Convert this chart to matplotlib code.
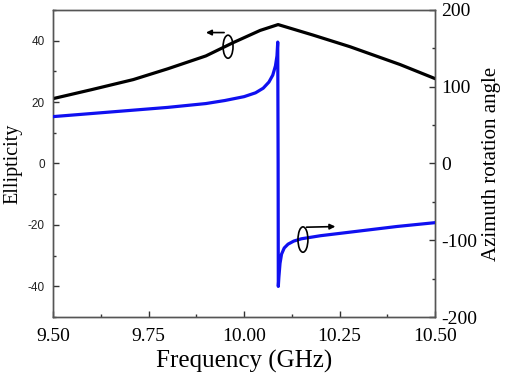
import numpy as np
import matplotlib
matplotlib.use("Agg")
import matplotlib.pyplot as plt
from matplotlib.patches import Ellipse
from matplotlib.ticker import MultipleLocator

plt.rcParams["axes.unicode_minus"] = False

# Ellipticity (black, left axis)
freq_ell = [9.50, 9.60, 9.71, 9.80, 9.90, 9.971, 10.042, 10.089, 10.18, 10.277, 10.408, 10.50]
ellipticity = [21.1, 24.0, 27.3, 30.8, 35.0, 39.3, 43.3, 45.2, 41.8, 38.0, 32.2, 27.6]

# Azimuth rotation angle (blue, right axis)
freq_az = [9.50, 9.60, 9.70, 9.80, 9.90, 9.95, 10.00, 10.03, 10.05, 10.065, 10.075, 10.082,
           10.086, 10.088, 10.089, 10.0895, 10.091, 10.094, 10.098, 10.105, 10.115, 10.13,
           10.15, 10.20, 10.30, 10.40, 10.50]
azimuth = [61, 65, 69, 73, 78, 82, 87, 92, 98, 106, 115, 127,
           140, 158, 0, -160, -148, -130, -118, -110, -105, -101,
           -98, -94, -88, -82, -77]

serif = "Liberation Serif"
sans = "Liberation Sans"

fig = plt.figure(figsize=(5.12, 3.78), dpi=100)
ax = fig.add_axes([0.1035, 0.161, 0.7465, 0.813])
ax2 = ax.twinx()

ax.plot(freq_ell, ellipticity, color="black", lw=2.3, zorder=3)
ax2.plot(freq_az, azimuth, color="#1010f0", lw=2.3, zorder=3)

ax.set_xlim(9.5, 10.5)
ax.set_ylim(-50, 50)
ax2.set_ylim(-200, 200)

ax.xaxis.set_major_locator(MultipleLocator(0.25))
ax.xaxis.set_minor_locator(MultipleLocator(0.125))
ax.yaxis.set_major_locator(MultipleLocator(20))
ax.yaxis.set_minor_locator(MultipleLocator(10))
ax2.yaxis.set_major_locator(MultipleLocator(100))
ax2.yaxis.set_minor_locator(MultipleLocator(50))

for a in (ax, ax2):
    for s in a.spines.values():
        s.set_color("#555555")
        s.set_linewidth(1.0)
    a.tick_params(which="both", direction="in", color="#333333")
    a.tick_params(which="major", length=4, width=1.0)
    a.tick_params(which="minor", length=2, width=1.0)

ax.tick_params(axis="x", labelsize=14, pad=8)
ax.tick_params(axis="y", labelsize=8.5, labelcolor="#222222", pad=6)
ax2.tick_params(axis="y", labelsize=14, pad=4)
ax.set_xticks([9.5, 9.75, 10.0, 10.25, 10.5])
ax.set_xticklabels(["9.50", "9.75", "10.00", "10.25", "10.50"], fontfamily=serif)
for t in ax.get_yticklabels():
    t.set_fontfamily(sans)
for t in ax2.get_yticklabels():
    t.set_fontfamily(serif)

ax.set_xlabel("Frequency (GHz)", fontsize=18, fontfamily=serif, labelpad=3)
ax.set_ylabel("Ellipticity", fontsize=14.5, fontfamily=serif, labelpad=4)
ax2.set_ylabel("Azimuth rotation angle", fontsize=15, fontfamily=serif, labelpad=4)

# rotation markers
ax.add_patch(Ellipse((9.958, 38.0), 0.026, 7.5, fill=False, ec="black", lw=1.2, zorder=4))
ax.annotate("", xy=(9.893, 42.6), xytext=(9.955, 42.6),
            arrowprops=dict(arrowstyle="-|>", color="black", lw=1.2, mutation_scale=8))
ax2.add_patch(Ellipse((10.154, -99), 0.026, 33, fill=False, ec="black", lw=1.2, zorder=4))
ax2.annotate("", xy=(10.246, -82), xytext=(10.156, -83),
             arrowprops=dict(arrowstyle="-|>", color="black", lw=1.2, mutation_scale=8))

fig.savefig("out.png", dpi=100)
